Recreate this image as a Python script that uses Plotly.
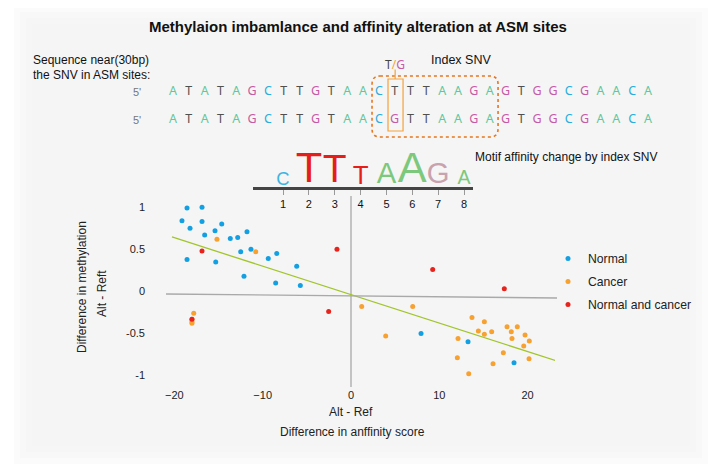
import plotly.graph_objects as go

# the page places the figure 8px from the top-left corner of the window
OFF = 8
W, H = 721 - OFF, 470 - OFF

# ---------------- data ----------------
ref_seq = list("ATATAGCTTGTAACTTTAAGAGTGGCGAACA")
alt_seq = list("ATATAGCTTGTAACGTTAAGAGTGGCGAACA")
snv_index = 15
motif_start = 14
motif_len = 8

motif_letters = ["C", "T", "T", "T", "A", "A", "G", "A"]
motif_bits = [0.85, 2.0, 1.8, 1.2, 1.35, 2.0, 1.35, 0.9]
motif_pos = [1, 2, 3, 4, 5, 6, 7, 8]

normal_x = [-18.57, -16.87, -19.14, -16.87, -14.64, -18.23, -16.57, -15.40, -13.67, -12.83,
            -11.78, -12.49, -11.33, -18.57, -15.32, -9.37, -8.41, -6.15, -12.12, -8.53,
            -5.74, 7.93, 13.25, 18.46]
normal_y = [0.99, 1.00, 0.84, 0.83, 0.80, 0.75, 0.67, 0.72, 0.63, 0.64,
            0.71, 0.47, 0.50, 0.38, 0.35, 0.39, 0.45, 0.30, 0.18, 0.10,
            0.07, -0.50, -0.60, -0.85]

cancer_x = [-15.18, -10.79, -17.81, -18.01, -18.01, -18.01, 1.21, 6.99, 3.93, 13.70,
            15.10, 14.42, 15.10, 15.93, 17.67, 18.83, 18.15, 18.23, 19.71, 20.19,
            19.56, 12.12, 17.25, 12.04, 16.08, 20.16, 13.33]
cancer_y = [0.62, 0.47, -0.26, -0.33, -0.36, -0.38, -0.18, -0.18, -0.53, -0.31,
            -0.36, -0.47, -0.51, -0.48, -0.42, -0.42, -0.48, -0.56, -0.52, -0.59,
            -0.65, -0.56, -0.73, -0.79, -0.86, -0.80, -0.98]

both_x = [-16.87, -1.59, -2.53, 9.25, 17.36, -18.01]
both_y = [0.48, 0.50, -0.24, 0.26, 0.03, -0.33]

fit_x = [-20.27, 23.33]
fit_y = [0.647, -0.828]

x_ticks = [-20, -10, 0, 10, 20]
y_ticks = [1, 0.5, 0, -0.5, -1]
y_tick_text = ["1", "0.5", "0", "-0.5", "-1"]

# ---------------- styles ----------------
FONT = "Liberation Sans, Arial, sans-serif"
SEQ_FONT = "Noto Sans, sans-serif"
base_color = {"A": "#62c79a", "T": "#505050", "G": "#c65aa6", "C": "#27ade0"}
logo_color = {"A": "#7cc87c", "T": "#e61e1a", "G": "#c8a2ac", "C": "#3bb4e2"}
BLUE, ORANGE, RED = "#12a0e3", "#f7a130", "#e8231c"


def px(x):
    return (x - OFF) / W


def py(y):
    return 1 - (y - OFF) / H


fig = go.Figure()

# main scatter
for name, xs, ys, col in [("Normal", normal_x, normal_y, BLUE),
                          ("Cancer", cancer_x, cancer_y, ORANGE),
                          ("Normal and cancer", both_x, both_y, RED)]:
    fig.add_trace(go.Scatter(x=xs, y=ys, mode="markers", name=name,
                             legendgroup=name,
                             marker=dict(color=col, size=5, line=dict(width=0))))

fig.add_trace(go.Scatter(x=fit_x, y=fit_y, mode="lines", showlegend=False,
                         line=dict(color="#a2c52c", width=1.3), hoverinfo="skip"))

# sequences (axis 2): index i sits at window pixel 173 + (i-1)*15.833
seq_step = 15.833
seq_r0 = 1 - (173 - OFF) / seq_step
seq_r1 = seq_r0 + W / seq_step
# rows: y=2 at window pixel 92, y=1 at 120
row_step = 28.0
seq_y0 = 2 - (H - (92 - OFF)) / row_step
seq_y1 = seq_y0 + H / row_step
for row_y, seq in [(2, ref_seq), (1, alt_seq)]:
    fig.add_trace(go.Scatter(
        x=list(range(1, len(seq) + 1)), y=[row_y] * len(seq), mode="text",
        text=seq, textposition="middle center",
        textfont=dict(family=SEQ_FONT, size=12.5, color=[base_color[b] for b in seq]),
        xaxis="x2", yaxis="y2", showlegend=False, hoverinfo="skip"))

# motif logo (axis 3)
logo_dom = [py(186.5), py(148.5)]
logo_ymax = 2.45
px_per_bit = (logo_dom[1] - logo_dom[0]) * H / logo_ymax
fig.add_trace(go.Scatter(
    x=motif_pos, y=[b / 2 for b in motif_bits], mode="text",
    text=motif_letters, textposition="middle center",
    textfont=dict(family=FONT, size=[b * px_per_bit / 0.716 for b in motif_bits],
                  color=[logo_color[l] for l in motif_letters]),
    xaxis="x3", yaxis="y3", showlegend=False, hoverinfo="skip"))

# ---------------- shapes ----------------
shapes = []
# soft background panel
for i in range(4):
    d = i * 6
    shapes.append(dict(type="rect", xref="paper", yref="paper", layer="below",
                       x0=px(14 + d), x1=px(708 - d), y0=py(464 - d), y1=py(6 + d),
                       fillcolor="#f1f3f3", opacity=0.3, line=dict(width=0)))
# tilted horizontal axis line
shapes.append(dict(type="line", xref="paper", yref="paper", x0=px(166), y0=py(294),
                   x1=px(557), y1=py(298), line=dict(color="#a9a9a9", width=1.3)))

# dashed rounded motif box
x0, x1 = motif_start - 0.43, motif_start + motif_len - 1 + 0.53
y0, y1 = 0.393, 2.571
rx, ry = 0.5, 0.3
path = (f"M {x0+rx},{y1} L {x1-rx},{y1} Q {x1},{y1} {x1},{y1-ry} "
        f"L {x1},{y0+ry} Q {x1},{y0} {x1-rx},{y0} L {x0+rx},{y0} "
        f"Q {x0},{y0} {x0},{y0+ry} L {x0},{y1-ry} Q {x0},{y1} {x0+rx},{y1} Z")
shapes.append(dict(type="path", xref="x2", yref="y2", path=path,
                   line=dict(color="#e8761e", width=1.6, dash="dot")))
# SNV box
shapes.append(dict(type="rect", xref="x2", yref="y2",
                   x0=snv_index - 0.42, x1=snv_index + 0.53, y0=0.607, y1=2.464,
                   line=dict(color="#f5a23a", width=1.2)))
shapes.append(dict(type="line", xref="x2", yref="y2",
                   x0=snv_index + 0.03, x1=snv_index + 0.03, y0=2.464, y1=2.8,
                   line=dict(color="#f5a23a", width=1.2)))

# ---------------- annotations ----------------
ann = []


def txt(x, y, s, size=12, color="#111", xanchor="left", angle=0, family=FONT, bold=False):
    ann.append(dict(xref="paper", yref="paper", x=px(x), y=py(y), text=s,
                    showarrow=False, xanchor=xanchor, yanchor="middle",
                    textangle=angle,
                    font=dict(family=family, size=size, color=color,
                              weight="bold" if bold else "normal")))


txt(358, 27, "Methylaion imbamlance and affinity alteration at ASM sites", 15,
    "#111", "center", bold=True)
txt(31, 60, "Sequence near(30bp)", 12)
txt(31, 75, "the SNV in ASM sites:", 12)
txt(137, 92, "5'", 11, "#777", "center")
txt(137, 120, "5'", 11, "#777", "center")
txt(429, 60, "Index SNV", 12.5)
txt(473, 157, "Motif affinity change by index SNV", 12)
txt(351, 412, "Alt - Ref", 12, "#222", "center")
txt(352, 432, "Difference in anffinity score", 12, "#222", "center")
txt(82, 287, "Difference in methylation", 12, "#222", "center", angle=-90)
txt(102, 294, "Alt - Reft", 12, "#222", "center", angle=-90)
ann.append(dict(xref="x2", yref="y2", x=snv_index + 0.05, y=3.0, showarrow=False,
                text="T<span style='color:#f5a23a'>/</span><span style='color:#c65aa6'>G</span>",
                font=dict(family=SEQ_FONT, size=12, color="#444"),
                xanchor="center", yanchor="middle"))

# ---------------- layout ----------------
fig.update_layout(
    width=W, height=H, margin=dict(l=0, r=0, t=0, b=0),
    paper_bgcolor="white", plot_bgcolor="rgba(0,0,0,0)",
    font=dict(family=FONT, size=11, color="#222"),
    shapes=shapes, annotations=ann,
    showlegend=True,
    legend=dict(x=px(548), y=py(244), xanchor="left", yanchor="top",
                bgcolor="rgba(0,0,0,0)", font=dict(size=12.2, color="#222"),
                tracegroupgap=4, itemwidth=30),
    xaxis=dict(domain=[px(166), px(555)], range=[-20.95, 23.1],
               tickvals=x_ticks, showgrid=False, showline=False,
               zeroline=True, zerolinecolor="#c3c3c3", zerolinewidth=2,
               ticks="", tickfont=dict(size=11, color="#222")),
    yaxis=dict(domain=[py(387), py(196)], range=[-1.137, 1.134],
               tickvals=y_ticks, ticktext=y_tick_text, showgrid=False,
               showline=False, zeroline=False, ticks="",
               ticklabelstandoff=20, tickfont=dict(size=11, color="#222")),
    xaxis2=dict(domain=[0, 1], range=[seq_r0, seq_r1], visible=False),
    yaxis2=dict(domain=[0, 1], range=[seq_y0, seq_y1], visible=False),
    xaxis3=dict(domain=[px(253), px(473)], range=[-0.16, 8.347], anchor="y3",
                tickvals=motif_pos, showgrid=False, zeroline=False,
                showline=True, linecolor="#444", linewidth=3,
                ticks="outside", ticklen=5, tickcolor="#999", tickwidth=1,
                tickfont=dict(size=11, color="#111")),
    yaxis3=dict(domain=logo_dom, range=[0, logo_ymax], anchor="x3", visible=False),
)

fig.write_html("out.html")
